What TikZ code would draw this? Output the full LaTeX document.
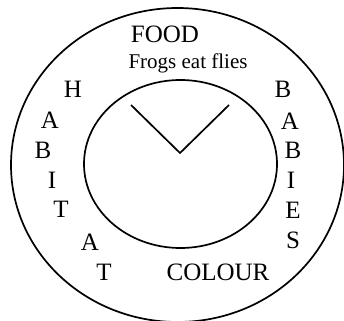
\documentclass[tikz,border=0pt]{standalone}
\usepackage{fontspec}
\setmainfont{Liberation Serif}
\begin{document}
\begin{tikzpicture}[
    x=1pt, y=-1pt,
    ring/.style={line width=1.7pt, draw=black},
    hand/.style={line width=1.7pt, draw=black},
    bigword/.style={inner sep=0pt, font=\fontsize{25}{25}\selectfont},
    smallword/.style={inner sep=0pt, font=\fontsize{21}{21}\selectfont}
]
    \useasboundingbox (0,0) rectangle (344,320);

    % Rings
    \draw[ring] (177.5,165) ellipse [x radius=166.5, y radius=157];
    \draw[ring] (180.5,164) ellipse [x radius=96.5, y radius=84];

    % Clock hands
    \coordinate (lefttip) at (131,105);
    \coordinate (centre) at (180,153);
    \coordinate (righttip) at (229,105);
    \draw[hand] (lefttip) -- (centre) -- (righttip);

    % Top
    \node[bigword] (food) at (165,34) {FOOD};
    \node[smallword] (frogs) at (188,63) {Frogs eat flies};

    % Left side
    \node[bigword] (h1) at (73,89) {H};
    \node[bigword] (h2) at (50,120) {A};
    \node[bigword] (h3) at (43,150) {B};
    \node[bigword] (h4) at (52,180) {I};
    \node[bigword] (h5) at (61,209) {T};
    \node[bigword] (h6) at (90,242) {A};
    \node[bigword] (h7) at (104,272) {T};

    % Right side
    \node[bigword] (b1) at (283,89) {B};
    \node[bigword] (b2) at (290,121) {A};
    \node[bigword] (b3) at (293,150) {B};
    \node[bigword] (b4) at (291,180) {I};
    \node[bigword] (b5) at (293,210) {E};
    \node[bigword] (b6) at (293,240) {S};

    % Bottom
    \node[bigword] (colour) at (218,272) {COLOUR};
\end{tikzpicture}
\end{document}
